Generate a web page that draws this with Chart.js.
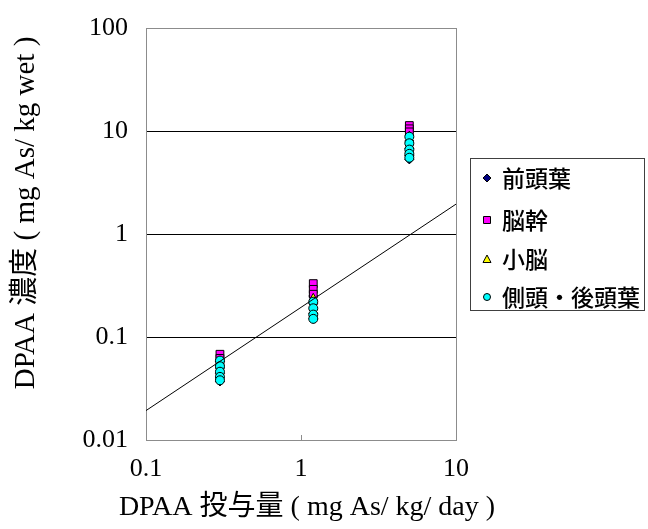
<!DOCTYPE html>
<html>
<head>
<meta charset="utf-8">
<script src="https://cdn.jsdelivr.net/npm/chart.js@4/dist/chart.umd.min.js"></script>
<style>
  html, body { margin: 0; padding: 0; background: #fff; }
  #wrap { width: 648px; height: 529px; }
</style>
</head>
<body>
<div id="wrap"><canvas id="chart" width="648" height="529"></canvas></div>
<script>
// doses (mg As/kg/day) used for every series
const doses = [0.3, 1.2, 5];

// concentrations per dose (one inner array per dose)
const frontal   = [[0.058, 0.050, 0.044, 0.037], [0.25, 0.21, 0.17, 0.15], [8.0, 6.8, 5.8, 5.3]];
const brainstem = [[0.068, 0.062, 0.055], [0.33, 0.29, 0.26], [11.3, 10.5, 9.8]];
const cerebellum = [[0.058, 0.052, 0.045], [0.24, 0.20, 0.17], [9.0, 7.5, 6.2]];
const temporal  = [[0.059, 0.052, 0.046, 0.041, 0.038], [0.22, 0.19, 0.165, 0.15], [8.8, 7.6, 6.6, 6.0, 5.5]];

const seriesNames = ['前頭葉', '脳幹', '小脳', '側頭・後頭葉'];

// fitted line end points
const fitX = [0.1, 10];
const fitY = [0.0193, 1.95];

const xTicks = [0.1, 1, 10];
const xTickLabels = ['0.1', '1', '10'];
const yTicks = [0.01, 0.1, 1, 10, 100];
const yTickLabels = ['0.01', '0.1', '1', '10', '100'];

const xTitle = 'DPAA 投与量 ( mg As/ kg/ day )';
const yTitle = 'DPAA 濃度 ( mg As/ kg wet )';

const SERIF = "'Liberation Serif', 'Noto Sans CJK JP', serif";
const GOTHIC = "'Noto Sans CJK JP', sans-serif";
const GRAY = '#8c8c8c';

function toPoints(groups) {
  const pts = [];
  groups.forEach((vals, i) => {
    vals.forEach(v => pts.push({ x: doses[i], y: v }));
  });
  return pts;
}

const styles = [
  { pointStyle: 'rectRot', bg: '#000080', r: 4.5 },
  { pointStyle: 'rect', bg: '#ff00ff', r: 5.5 },
  { pointStyle: 'triangle', bg: '#ffff00', r: 4.5 },
  { pointStyle: 'circle', bg: '#00ffff', r: 4.5 }
];
const seriesData = [frontal, brainstem, cerebellum, temporal];

const datasets = seriesData.map((d, i) => ({
  label: seriesNames[i],
  data: toPoints(d),
  pointStyle: styles[i].pointStyle,
  backgroundColor: styles[i].bg,
  borderColor: '#000',
  borderWidth: 1,
  pointRadius: styles[i].r,
  order: 4 - i   // first series at the bottom, like Excel
}));

datasets.push({
  label: 'fit',
  data: fitX.map((x, i) => ({ x: x, y: fitY[i] })),
  showLine: true,
  borderColor: '#000',
  borderWidth: 1,
  pointRadius: 0,
  order: 0
});

// legend marker (small version of the point style)
function drawMarker(ctx, style, x, y, fill) {
  ctx.save();
  ctx.fillStyle = fill;
  ctx.strokeStyle = '#000';
  ctx.lineWidth = 1;
  ctx.beginPath();
  if (style === 'rectRot') {
    ctx.moveTo(x, y - 4); ctx.lineTo(x + 4, y); ctx.lineTo(x, y + 4); ctx.lineTo(x - 4, y);
    ctx.closePath();
  } else if (style === 'rect') {
    ctx.rect(x - 3.5, y - 3.5, 7, 7);
  } else if (style === 'triangle') {
    ctx.moveTo(x, y - 4); ctx.lineTo(x + 4, y + 3.5); ctx.lineTo(x - 4, y + 3.5);
    ctx.closePath();
  } else {
    ctx.arc(x, y, 3.5, 0, Math.PI * 2);
  }
  ctx.fill();
  ctx.stroke();
  ctx.restore();
}

const extras = {
  id: 'extras',
  afterDraw(chart) {
    const ctx = chart.ctx;
    ctx.save();
    ctx.fillStyle = '#000';
    ctx.font = '28px ' + SERIF;
    ctx.textAlign = 'center';
    ctx.textBaseline = 'middle';
    ctx.fillText(xTitle, 307, 508);
    ctx.font = '29px ' + SERIF;
    ctx.translate(26, 213);
    ctx.rotate(-Math.PI / 2);
    ctx.fillText(yTitle, 0, 0);
    ctx.restore();

    // legend box
    ctx.save();
    ctx.strokeStyle = '#404040';
    ctx.lineWidth = 1;
    ctx.strokeRect(470.5, 158.5, 174, 152);
    ctx.font = '500 23px ' + GOTHIC;
    ctx.textBaseline = 'middle';
    ctx.textAlign = 'left';
    ctx.fillStyle = '#000';
    const rows = [178, 220, 259, 297];
    seriesNames.forEach((name, i) => {
      drawMarker(ctx, styles[i].pointStyle, 487, rows[i], styles[i].bg);
      ctx.fillText(name, 502, rows[i]);
    });
    ctx.restore();
  }
};

new Chart(document.getElementById('chart'), {
  type: 'scatter',
  data: { datasets: datasets },
  plugins: [extras],
  options: {
    responsive: false,
    animation: false,
    layout: { padding: { top: 0, right: 192, bottom: 0, left: 0 } },
    plugins: {
      legend: { display: false },
      tooltip: { enabled: false }
    },
    scales: {
      x: {
        type: 'logarithmic',
        min: 0.1,
        max: 10,
        afterBuildTicks: s => { s.ticks = xTicks.map(v => ({ value: v })); },
        afterFit: s => { s.height = 89; },
        ticks: {
          color: '#000',
          font: { family: SERIF, size: 26 },
          padding: 19,
          autoSkip: false,
          maxRotation: 0,
          callback: (v, i) => xTickLabels[i]
        },
        grid: {
          color: c => (c.tick && c.tick.value === 10) ? GRAY : 'rgba(0,0,0,0)',
          tickColor: c => (c.tick && c.tick.value === 1) ? GRAY : 'rgba(0,0,0,0)',
          tickLength: -5,
          lineWidth: 1
        },
        border: { color: GRAY, width: 1 }
      },
      y: {
        type: 'logarithmic',
        min: 0.01,
        max: 100,
        afterBuildTicks: s => { s.ticks = yTicks.map(v => ({ value: v })); },
        afterFit: s => { s.width = 146; s.paddingTop = 28; s.paddingBottom = 0; },
        ticks: {
          color: '#000',
          font: { family: SERIF, size: 26 },
          padding: 18,
          autoSkip: false,
          callback: (v, i) => yTickLabels[i]
        },
        grid: {
          color: c => (c.tick && (c.tick.value === 0.01 || c.tick.value === 100)) ? GRAY : '#000',
          drawTicks: false,
          lineWidth: 1
        },
        border: { color: GRAY, width: 1 }
      }
    }
  }
});
</script>
</body>
</html>
